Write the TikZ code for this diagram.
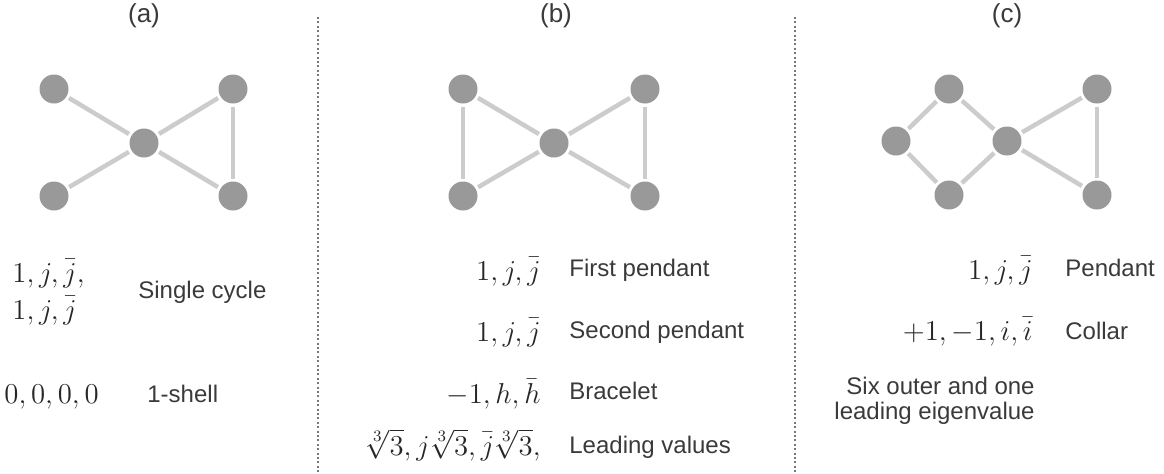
\documentclass[tikz,border=0pt]{standalone}
\usepackage{amsmath}
\usepackage{fontspec}
\newfontfamily\arialfont{Liberation Sans}
\usepackage{tikz}
\usetikzlibrary{positioning}

\definecolor{vertexgray}{HTML}{999999}
\definecolor{edgegray}{HTML}{CCCCCC}
\definecolor{textgray}{HTML}{3A3A3A}
\definecolor{dotgray}{HTML}{777777}

\begin{document}
\begin{tikzpicture}[
    x=0.5pt, y=-0.5pt,
    vertex/.style={circle, fill=vertexgray, minimum size=14.5pt, inner sep=0pt, outer sep=1.5pt},
    edge/.style={draw=edgegray, line width=2.25pt},
    title/.style={font=\arialfont\fontsize{13}{15.6}\selectfont, text=textgray},
    desc/.style={font=\arialfont\fontsize{12}{12.6}\selectfont, text=textgray, inner sep=0pt},
    vals/.style={font=\fontsize{15.8}{19}\selectfont, text=black!85, inner sep=0pt},
    divider/.style={draw=dotgray, line width=1pt, dash pattern=on 1pt off 1.2pt}
]
    \useasboundingbox (0,0) rectangle (1164,473);

    % Titles
    \node[title] (ta) at (144,16) {(a)};
    \node[title] (tb) at (556,16) {(b)};
    \node[title] (tc) at (1007,16) {(c)};

    % Dividers
    \draw[divider] (318,17) -- (318,473);
    \draw[divider] (795,17) -- (795,473);

    % Graph (a)
    \node[vertex] (a1) at (54,89) {};
    \node[vertex] (a2) at (233,89) {};
    \node[vertex] (a3) at (144,143) {};
    \node[vertex] (a4) at (54,196) {};
    \node[vertex] (a5) at (233,196) {};
    \draw[edge] (a1) -- (a3);
    \draw[edge] (a4) -- (a3);
    \draw[edge] (a3) -- (a2);
    \draw[edge] (a3) -- (a5);
    \draw[edge] (a2) -- (a5);

    % Graph (b)
    \node[vertex] (b1) at (463,89) {};
    \node[vertex] (b2) at (645,89) {};
    \node[vertex] (b3) at (554,143) {};
    \node[vertex] (b4) at (463,196) {};
    \node[vertex] (b5) at (645,196) {};
    \draw[edge] (b1) -- (b4);
    \draw[edge] (b1) -- (b3);
    \draw[edge] (b4) -- (b3);
    \draw[edge] (b3) -- (b2);
    \draw[edge] (b3) -- (b5);
    \draw[edge] (b2) -- (b5);

    % Graph (c)
    \node[vertex] (c1) at (949,89) {};
    \node[vertex] (c2) at (896,141) {};
    \node[vertex] (c3) at (949,195) {};
    \node[vertex] (c4) at (1007,141) {};
    \node[vertex] (c5) at (1097,89) {};
    \node[vertex] (c6) at (1097,195) {};
    \draw[edge] (c2) -- (c1);
    \draw[edge] (c1) -- (c4);
    \draw[edge] (c2) -- (c3);
    \draw[edge] (c3) -- (c4);
    \draw[edge] (c4) -- (c5);
    \draw[edge] (c4) -- (c6);
    \draw[edge] (c5) -- (c6);

    % Spectrum (a)
    \node[vals, anchor=base west] (aval1) at (12,282) {$1, j, \bar{j},$};
    \node[vals, anchor=base west] (aval2) at (12,319) {$1, j, \bar{j}$};
    \node[desc, anchor=base west] (adesc1) at (138,298) {Single cycle};
    \node[vals, anchor=base west] (aval3) at (4,403) {$0, 0, 0, 0$};
    \node[desc, anchor=base west] (adesc2) at (147,402) {1-shell};

    % Spectrum (b)
    \node[vals, anchor=base east] (bval1) at (541,280) {$1, j, \bar{j}$};
    \node[desc, anchor=base west] (bdesc1) at (569,276) {First pendant};
    \node[vals, anchor=base east] (bval2) at (541,341) {$1, j, \bar{j}$};
    \node[desc, anchor=base west] (bdesc2) at (569,338) {Second pendant};
    \node[vals, anchor=base east] (bval3) at (541,403) {$-1, h, \bar{h}$};
    \node[desc, anchor=base west] (bdesc3) at (569,399) {Bracelet};
    \node[vals, anchor=base east] (bval4) at (541,455) {$\sqrt[3]{3}, j\sqrt[3]{3}, \bar{j}\sqrt[3]{3},$};
    \node[desc, anchor=base west] (bdesc4) at (569,453) {Leading values};

    % Spectrum (c)
    \node[vals, anchor=base east] (cval1) at (1033,279) {$1, j, \bar{j}$};
    \node[desc, anchor=base west] (cdesc1) at (1065,276) {Pendant};
    \node[vals, anchor=base east] (cval2) at (1033,340) {$+1, -1, i, \bar{i}$};
    \node[desc, anchor=base west] (cdesc2) at (1065,339) {Collar};
    \node[desc, anchor=north east, align=right] (cdesc3) at (1035,377) {Six outer and one\\leading eigenvalue};
\end{tikzpicture}
\end{document}
